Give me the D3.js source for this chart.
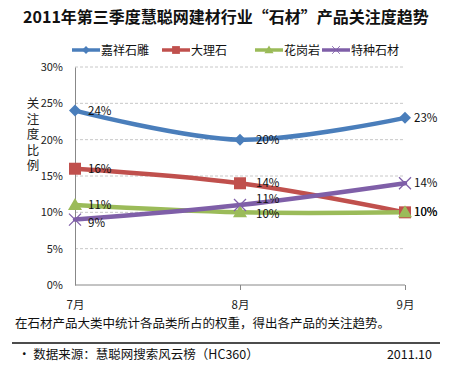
<!DOCTYPE html>
<html>
<head>
<meta charset="utf-8">
<script src="https://cdn.jsdelivr.net/npm/d3@7"></script>
<style>
  body { margin: 0; background: #fff; }
  svg text { font-family: "Noto Sans CJK SC", "DejaVu Sans", sans-serif; }
</style>
</head>
<body>
<svg id="chart" width="450" height="370"></svg>
<script>
var months = ['7月', '8月', '9月'];
var seriesNames = ['嘉祥石雕', '大理石', '花岗岩', '特种石材'];
var diaoke = [24, 20, 23];
var dalishi = [16, 14, 10];
var huagangyan = [11, 10, 10];
var tezhong = [9, 11, 14];
var yTicks = [0, 5, 10, 15, 20, 25, 30];

var colors = ['#4a7ebb', '#c0504d', '#9bbb59', '#7f5fa8'];
var markers = ['diamond', 'square', 'triangle', 'cross'];

var series = [diaoke, dalishi, huagangyan, tezhong].map(function(vals, i) {
  return { name: seriesNames[i], values: vals, color: colors[i], marker: markers[i] };
});

var svg = d3.select('#chart');

var x = d3.scalePoint().domain(months).range([75, 405]);
var y = d3.scaleLinear().domain([0, 30]).range([285, 67]);

// title
svg.append('text')
  .attr('x', 226).attr('y', 23)
  .attr('text-anchor', 'middle')
  .attr('font-size', 16).attr('font-weight', 'bold')
  .attr('fill', '#111')
  .text('2011年第三季度慧聪网建材行业“石材”产品关注度趋势');

// gridlines
svg.append('g').selectAll('line')
  .data(yTicks.filter(function(d) { return d > 0; }))
  .join('line')
  .attr('x1', 75).attr('x2', 405)
  .attr('y1', function(d) { return y(d); })
  .attr('y2', function(d) { return y(d); })
  .attr('stroke', '#c8c8c8').attr('stroke-dasharray', '3,2');

// axes
var yAxis = svg.append('g')
  .attr('transform', 'translate(75,0)')
  .call(d3.axisLeft(y).tickValues(yTicks).tickFormat(function(d) { return d + '%'; }).tickSize(0).tickPadding(12));
yAxis.select('.domain').attr('stroke', '#888');
yAxis.selectAll('text').attr('font-size', 11).attr('fill', '#222');

var xAxis = svg.append('g')
  .attr('transform', 'translate(0,285)')
  .call(d3.axisBottom(x).tickSize(5).tickPadding(11));
xAxis.select('.domain').attr('stroke', '#888').attr('d', 'M75,0H405');
xAxis.selectAll('.tick line').attr('stroke', '#888')
  .attr('y2', function(d, i) { return i === 0 ? 0 : 5; });
xAxis.selectAll('text').attr('font-size', 11.5).attr('fill', '#222');

// y axis title, vertical upright text
svg.append('text')
  .attr('x', 33).attr('y', 97)
  .style('writing-mode', 'vertical-rl')
  .style('text-orientation', 'upright')
  .style('letter-spacing', '3px')
  .attr('font-size', 12.5).attr('fill', '#222')
  .text('关注度比例');

// lines
var line = d3.line()
  .x(function(d, i) { return x(months[i]); })
  .y(function(d) { return y(d); })
  .curve(d3.curveCatmullRom.alpha(0.5));

svg.append('g').selectAll('path')
  .data(series)
  .join('path')
  .attr('d', function(s) { return line(s.values); })
  .attr('fill', 'none')
  .attr('stroke', function(s) { return s.color; })
  .attr('stroke-width', 4.5)
  .attr('stroke-linecap', 'round');

function drawMarker(g, type, color) {
  if (type === 'diamond') {
    g.append('path').attr('d', 'M0,-6L6,0L0,6L-6,0Z').attr('fill', color);
  } else if (type === 'square') {
    g.append('rect').attr('x', -6).attr('y', -6).attr('width', 12).attr('height', 12).attr('fill', color);
  } else if (type === 'triangle') {
    g.append('path').attr('d', 'M0,-7L7,5L-7,5Z').attr('fill', color);
  } else {
    g.append('path').attr('d', 'M-6,-6L6,6M-6,6L6,-6').attr('stroke', color).attr('stroke-width', 1.3);
  }
}

series.forEach(function(s) {
  s.values.forEach(function(v, i) {
    var g = svg.append('g').attr('transform', 'translate(' + x(months[i]) + ',' + y(v) + ')');
    drawMarker(g, s.marker, s.color);
  });
});

// data labels
var labelDx = [13, 16, 9];
var labelDy = {
  '嘉祥石雕': [0, 0, 0],
  '大理石': [0, 0, 0],
  '花岗岩': [0, 2, 0],
  '特种石材': [3, -6, 0]
};
series.forEach(function(s) {
  svg.append('g').selectAll('text')
    .data(s.values)
    .join('text')
    .attr('x', function(d, i) { return x(months[i]) + labelDx[i]; })
    .attr('y', function(d, i) { return y(d) + 4 + labelDy[s.name][i]; })
    .attr('font-size', 11.5).attr('fill', '#111')
    .text(function(d) { return d + '%'; });
});

// legend
var legendX = [72, 162, 255, 322];
var legend = svg.append('g').selectAll('g')
  .data(series)
  .join('g')
  .attr('transform', function(s, i) { return 'translate(' + legendX[i] + ',50)'; });
legend.append('line')
  .attr('x1', 0).attr('x2', 28)
  .attr('stroke', function(s) { return s.color; }).attr('stroke-width', 3.5);
legend.each(function(s) {
  var g = d3.select(this).append('g').attr('transform', 'translate(14,0) scale(0.65)');
  drawMarker(g, s.marker, s.color);
});
legend.append('text')
  .attr('x', 29).attr('y', 4.5)
  .attr('font-size', 12).attr('fill', '#111')
  .text(function(s) { return s.name; });

// footer
svg.append('text')
  .attr('x', 15).attr('y', 328)
  .attr('font-size', 12.5).attr('fill', '#111')
  .text('在石材产品大类中统计各品类所占的权重，得出各产品的关注趋势。');
svg.append('line')
  .attr('x1', 12).attr('x2', 440).attr('y1', 343).attr('y2', 343)
  .attr('stroke', '#111').attr('stroke-width', 1.5);
svg.append('text')
  .attr('x', 18).attr('y', 359)
  .attr('font-size', 12.5).attr('fill', '#111')
  .text('• 数据来源：慧聪网搜索风云榜（HC360）');
svg.append('text')
  .attr('x', 432).attr('y', 359)
  .attr('text-anchor', 'end')
  .attr('font-size', 12.5).attr('fill', '#111')
  .text('2011.10');
</script>
</body>
</html>
